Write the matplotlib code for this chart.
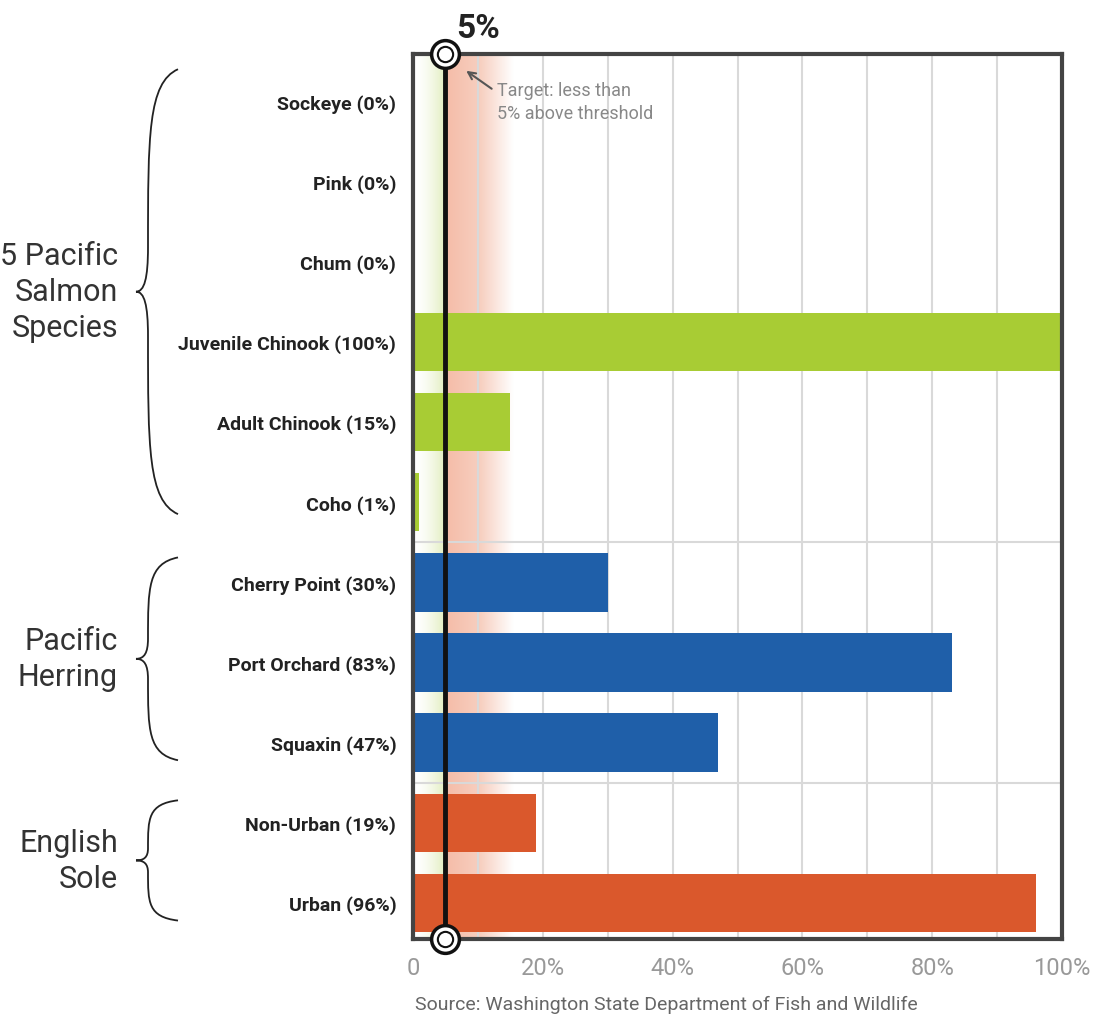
import matplotlib.pyplot as plt
import matplotlib.transforms as mtransforms
import numpy as np
from matplotlib.colors import LinearSegmentedColormap
from matplotlib.path import Path
from matplotlib.patches import PathPatch

plt.rcParams['font.family'] = ['Roboto', 'DejaVu Sans']

# data
labels = ["Sockeye (0%)", "Pink (0%)", "Chum (0%)", "Juvenile Chinook (100%)",
          "Adult Chinook (15%)", "Coho (1%)", "Cherry Point (30%)", "Port Orchard (83%)",
          "Squaxin (47%)", "Non-Urban (19%)", "Urban (96%)"]
values = [0, 0, 0, 100, 15, 1, 30, 83, 47, 19, 96]
groups = ["salmon"] * 6 + ["herring"] * 3 + ["sole"] * 2
group_names = ["5 Pacific\nSalmon\nSpecies", "Pacific\nHerring", "English\nSole"]
group_colors = {"salmon": "#a8cc34", "herring": "#1f5fa9", "sole": "#da582c"}
target = 5
xticks = [0, 20, 40, 60, 80, 100]
xticklabels = ["0", "20%", "40%", "60%", "80%", "100%"]

fig = plt.figure(figsize=(10.93, 10.2), dpi=100)
ax = fig.add_axes([413 / 1093, 1 - 940 / 1020, 649 / 1093, 885 / 1020])

y = np.arange(len(labels))
ax.set_xlim(0, 100)
ax.set_ylim(10.45, -0.59)

# background gradients around the target
green = LinearSegmentedColormap.from_list("g", ["#ffffff", "#e4efc4"])
red = LinearSegmentedColormap.from_list("r", ["#f5bda9", "#f7cfc0", "#ffffff"])
ax.imshow(np.linspace(0, 1, 100).reshape(1, -1) ** 1.5, cmap=green, aspect="auto",
          extent=(0.3, target - 0.3, 10.45, -0.59), zorder=0.5)
ax.imshow(np.linspace(0, 1, 100).reshape(1, -1), cmap=red, aspect="auto",
          extent=(target + 0.3, 15.5, 10.45, -0.59), zorder=0.5)

# grid
for gx in range(10, 100, 10):
    ax.axvline(gx, color="#d9d9d9", lw=1.5, zorder=1)
for sep in [5.5, 8.5]:
    ax.axhline(sep, color="#d9d9d9", lw=1.5, zorder=1)

ax.barh(y, values, height=0.73, color=[group_colors[g] for g in groups], zorder=2)

# target line with ring markers
ax.plot([target, target], [-0.59, 10.45], color="#111111", lw=3.5, zorder=4, clip_on=False)
for yy in [-0.59, 10.45]:
    ax.plot(target, yy, marker="o", ms=20, mfc="white", mec="#111111", mew=2.5,
            zorder=5, clip_on=False)
    ax.plot(target, yy, marker="o", ms=11, mfc="white", mec="#111111", mew=1.5,
            zorder=6, clip_on=False)

ax.text(target + 1.6, -0.72, "5%", fontsize=24, fontweight="bold", color="#222222",
        ha="left", va="bottom")
ax.annotate("Target: less than\n5% above threshold", xy=(8.2, -0.38),
            xytext=(12.9, 0.0), fontsize=13, color="#888888",
            va="center", ha="left", linespacing=1.35,
            arrowprops=dict(arrowstyle="->", color="#555555", lw=1.5,
                            shrinkA=2, shrinkB=0, relpos=(0, 0.72)))

for s in ax.spines.values():
    s.set_color("#444444")
    s.set_linewidth(3)
    s.set_zorder(3)

ax.set_yticks(y)
ax.set_yticklabels(labels, fontsize=14, fontweight="bold", color="#222222")
ax.set_xticks(xticks)
ax.set_xticklabels(xticklabels, fontsize=17, color="#999999")
ax.tick_params(length=0, pad=12)
ax.tick_params(axis="y", pad=12)

# braces with group labels
trans = mtransforms.blended_transform_factory(fig.transFigure, ax.transData)


def brace(y0, y1, xr, xs, xt):
    h = y1 - y0
    ym = (y0 + y1) / 2
    verts = [(xr, y0),
             (xs, y0 + 0.03 * h), (xs, y0 + 0.15 * h), (xs, ym - 0.1 * h),
             (xs, ym - 0.03 * h), (xs - 0.3 * (xs - xt), ym), (xt, ym),
             (xs - 0.3 * (xs - xt), ym), (xs, ym + 0.03 * h), (xs, ym + 0.1 * h),
             (xs, y1 - 0.15 * h), (xs, y1 - 0.03 * h), (xr, y1)]
    codes = [Path.MOVETO] + [Path.CURVE4] * 12
    fig.add_artist(PathPatch(Path(verts, codes), transform=trans, fill=False,
                             lw=1.3, color="#222222", clip_on=False))


spans = [(-0.4, 5.15), (5.69, 8.22), (8.72, 10.22)]
for (y0, y1), name in zip(spans, group_names):
    brace(y0, y1, 178 / 1093, 148 / 1093, 136 / 1093)
    t = fig.text(118 / 1093, 0, name, transform=trans, fontsize=22, color="#333333",
                 ha="right", va="center", linespacing=1.3)
    t.set_y((y0 + y1) / 2)

fig.text(415 / 1093, 1 - 1005 / 1020, "Source: Washington State Department of Fish and Wildlife",
         fontsize=14, color="#666666", ha="left", va="center")

fig.savefig("out.png", dpi=100, facecolor="white")
